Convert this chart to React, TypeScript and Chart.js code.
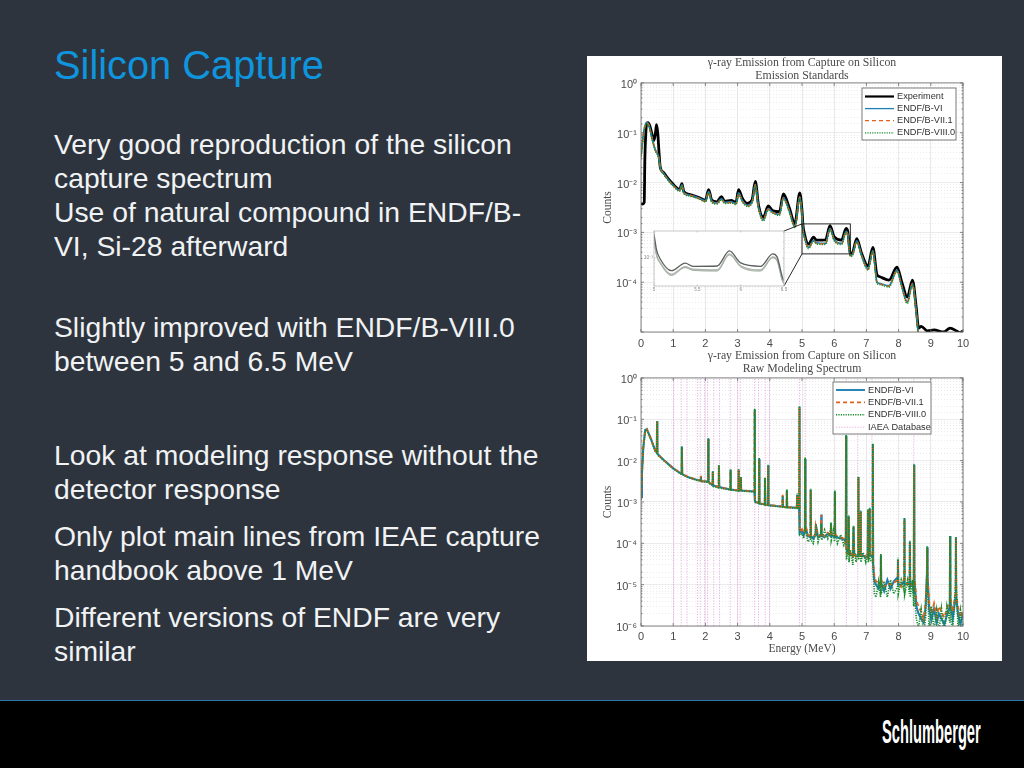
import React, { useEffect, useRef } from "react";
import { Chart, registerables } from "chart.js";

Chart.register(...registerables);

// ---------- slide text ----------
const slideTitle = "Silicon Capture";
const bodyLines: [string, number][] = [
  ["Very good reproduction of the silicon", 144],
  ["capture spectrum", 178],
  ["Use of natural compound in ENDF/B-", 212],
  ["VI, Si-28 afterward", 246],
  ["Slightly improved with ENDF/B-VIII.0", 327],
  ["between 5 and 6.5 MeV", 361],
  ["Look at modeling response without the", 455],
  ["detector response", 489],
  ["Only plot main lines from IEAE capture", 536],
  ["handbook above 1 MeV", 570],
  ["Different versions of ENDF are very", 617],
  ["similar", 651],
];

// ---------- top chart: detector-broadened spectrum ----------
const expEnergy = [0, .05, .1, .12, .15, .18, .22, .27, .33, .4, .45, .48, .52, .56, .6, .7, .8, 1, 1.2, 1.27, 1.33, 1.5, 1.8, 2, 2.1, 2.2, 2.35, 2.5, 2.6, 2.8, 2.95, 3.03, 3.15, 3.3, 3.45, 3.55, 3.65, 3.8, 3.95, 4.1, 4.3, 4.42, 4.6, 4.78, 4.93, 5, 5.03, 5.07, 5.2, 5.36, 5.45, 5.73, 5.87, 6, 6.23, 6.37, 6.42, 6.5, 6.55, 6.7, 6.85, 7.05, 7.2, 7.33, 7.4, 7.7, 7.95, 8.1, 8.27, 8.43, 8.55, 8.62, 8.7, 8.9, 9.1, 9.4, 9.6, 9.8, 9.9, 10];
const experiment = [3.8e-3, 3.7e-3, 4e-3, .03, .1, .155, .16, .14, .1, .07, .1, .145, .1, .04, .02, .016, .013, .0092, .0073, .0095, .0066, .0058, .005, .0044, .0072, .0044, .0041, .0052, .0042, .0044, .004, .0072, .0048, .0038, .0045, .0105, .0035, .002, .0034, .0027, .0026, .0059, .0032, .0015, .0062, 2.75e-3, 1.4e-3, 9.7e-4, 5.8e-4, 8e-4, 7e-4, 7.1e-4, 1.36e-3, 8.1e-4, 7e-4, 1.2e-3, 1.05e-3, 3.8e-4, 3.7e-4, 7.5e-4, 3.8e-4, 2.1e-4, 5e-4, 1.4e-4, 1.3e-4, 1.1e-4, 2e-4, 1e-4, 5e-5, 1.1e-4, 3e-5, 1.2e-5, 1.3e-5, 1.05e-5, 1.1e-5, 1e-5, 1.2e-5, 1.05e-5, 9.7e-6, 1.05e-5];
const modelEnergy = [0, .05, .1, .18, .25, .35, .45, .5, .56, .6, .7, .8, 1, 1.2, 1.27, 1.33, 1.5, 1.8, 2, 2.1, 2.2, 2.35, 2.5, 2.6, 2.8, 2.95, 3.03, 3.15, 3.3, 3.45, 3.55, 3.65, 3.8, 3.95, 4.1, 4.3, 4.42, 4.6, 4.78, 4.93, 5, 5.03, 5.07, 5.2, 5.36, 5.45, 5.73, 5.87, 6, 6.23, 6.37, 6.42, 6.5, 6.55, 6.7, 6.85, 7.05, 7.2, 7.33, 7.4, 7.7, 7.95, 8.1, 8.27, 8.43, 8.55, 8.62, 8.7];
const broadVI = [.035, .07, .12, .16, .14, .075, .045, .04, .03, .02, .0155, .0125, .0088, .007, .009, .0063, .0056, .0049, .0043, .0066, .0042, .0039, .0047, .004, .0041, .0038, .0062, .0043, .0035, .0041, .0092, .0032, .0018, .003, .0025, .0023, .005, .0028, .0013, .0052, 2.3e-3, 1.15e-3, 8.4e-4, 5e-4, 6.9e-4, 6.2e-4, 6e-4, 1.2e-3, 7.2e-4, 6e-4, 1.05e-3, 9.2e-4, 3.5e-4, 3.5e-4, 6.8e-4, 3.5e-4, 1.85e-4, 4.3e-4, 1e-4, 9.5e-5, 8.5e-5, 1.75e-4, 8.3e-5, 4e-5, 9.5e-5, 2.5e-5, 8e-6, 3e-6];
const broadVII = [.033, .068, .118, .158, .138, .074, .044, .039, .03, .02, .0152, .0123, .0087, .0069, .0088, .0062, .0056, .0048, .0042, .0064, .0042, .0038, .0046, .0039, .004, .0037, .006, .0042, .0034, .004, .009, .0031, .0018, .0029, .0025, .0023, .0049, .0027, .0013, .0051, 2.2e-3, 1.12e-3, 8.2e-4, 4.9e-4, 6.7e-4, 6e-4, 5.9e-4, 1.17e-3, 7e-4, 5.9e-4, 1.03e-3, 9e-4, 3.4e-4, 3.4e-4, 6.6e-4, 3.4e-4, 1.8e-4, 4.2e-4, 9.8e-5, 9.3e-5, 8.3e-5, 1.7e-4, 8.1e-5, 3.9e-5, 9.3e-5, 2.4e-5, 8e-6, 3e-6];
const broadVIII = [.03, .062, .11, .15, .13, .07, .042, .037, .028, .019, .0148, .012, .0085, .0067, .0086, .006, .0054, .0047, .0041, .0062, .004, .0037, .0045, .0038, .0039, .0036, .0058, .0041, .0033, .0039, .0086, .003, .0017, .0028, .0024, .0022, .0047, .0026, .00125, .0049, 2.15e-3, 1.1e-3, 8e-4, 4.7e-4, 6.6e-4, 5.9e-4, 5.7e-4, 1.14e-3, 6.8e-4, 5.7e-4, 1e-3, 8.8e-4, 3.3e-4, 3.3e-4, 6.4e-4, 3.3e-4, 1.75e-4, 4.1e-4, 9.5e-5, 9e-5, 8e-5, 1.65e-4, 7.8e-5, 3.7e-5, 9e-5, 2.3e-5, 7e-6, 3e-6];

// zoom window [xMin, xMax, yMin, yMax] marked on the top chart
const zoomWindow = [5, 6.5, 3.7e-4, 1.48e-3];
const insetTicks = [5, 5.5, 6, 6.5];

// ---------- bottom chart: raw modeling spectrum ----------
const rawEnergy = [
  0, .03, .07, .13, .18, .3, .45, .49, .5, .51, .53, .7, 1,
  1.25, 1.26, 1.27, 1.28, 1.45, 1.7, 1.85, 1.86, 1.87, 2.08, 2.09, 2.1,
  2.22, 2.23, 2.24, 2.41, 2.42, 2.43, 2.77, 2.78, 2.79, 3.02, 3.03, 3.04, 3.09, 3.1, 3.11,
  3.52, 3.53, 3.54, 3.55, 3.66, 3.67, 3.68, 3.84, 3.85, 3.86, 3.94, 3.95, 3.96,
  4.2, 4.39, 4.4, 4.41, 4.52, 4.53, 4.54, 4.84, 4.85, 4.86, 4.91, 4.92, 4.93,
  5, 5.05, 5.09, 5.1, 5.11, 5.18, 5.26, 5.27, 5.28, 5.35, 5.42, 5.43, 5.5, 5.59, 5.6, 5.61, 5.7, 5.8, 5.89, 5.9, 5.91, 5.97, 6.01, 6.02, 6.03, 6.1, 6.2, 6.3,
  6.36, 6.37, 6.38, 6.44, 6.45, 6.46, 6.5, 6.58, 6.6, 6.62, 6.68, 6.74, 6.75, 6.76, 6.81, 6.82, 6.83, 6.9, 6.98, 7.04, 7.05, 7.06, 7.09, 7.1, 7.11, 7.19, 7.2, 7.21, 7.25,
  7.3, 7.38, 7.44, 7.45, 7.46, 7.55, 7.65, 7.75, 7.85, 7.97, 7.98, 7.99, 8.08, 8.17, 8.18, 8.19, 8.28, 8.34, 8.35, 8.36, 8.43, 8.47, 8.48, 8.49, 8.55,
  8.62, 8.7, 8.78, 8.84, 8.88, 8.89, 8.9, 8.95, 9.02, 9.1, 9.18, 9.25, 9.33, 9.42, 9.5, 9.59, 9.6, 9.61, 9.68, 9.77, 9.78, 9.79, 9.85, 9.92, 10,
];
const rawVI = [
  1.3e-3, 5e-3, .02, .055, .058, .035, .017, .016, .09, .015, .014, .0105, .0065,
  .0048, .0048, .022, .0047, .004, .0035, .0033, .0042, .0032, .0031, .034, .003,
  .0026, .0055, .0025, .0023, .0077, .0023, .002, .006, .002, .0019, .006, .0019, .0019, .004, .0019,
  .0018, .17, .0011, .001, .00095, .011, .00092, .00088, .0038, .00086, .00085, .0077, .00084,
  .0008, .00078, .0014, .00077, .00075, .0019, .00075, .00072, .0015, .00072, .00072, .2, .00018,
  2e-4, 1.6e-4, 2e-4, .011, 2.5e-4, 1.5e-4, 1.4e-4, .002, 1.5e-4, 1.3e-4, 1.6e-4, 2.8e-4, 1.4e-4, 1.5e-4, 5e-4, 1.6e-4, 1.4e-4, 1.7e-4, 1.5e-4, 3e-4, 1.6e-4, 1.5e-4, 1.4e-4, .0018, 1.5e-4, 1.4e-4, 1.3e-4, 1.25e-4,
  1.1e-4, .04, 7e-5, 6e-5, 4.5e-4, 6e-5, 5.5e-5, 5e-5, 2.5e-4, 5.5e-5, 5e-5, 5e-5, .004, 6e-5, 5.5e-5, 6e-4, 5.5e-5, 5e-5, 4.5e-5, 5e-5, 6.5e-4, 5e-5, 5e-5, 7e-4, 5.5e-5, 4.5e-5, .025, 3e-5, 1.2e-5,
  1e-5, 8e-6, 1.2e-5, 5e-5, 1.1e-5, 7e-6, 1.3e-5, 8e-6, 1.2e-5, 1.5e-5, 4e-5, 1e-5, 1e-5, 1.2e-5, 4e-4, 1e-5, 1.1e-5, 1e-5, 1.1e-4, 9e-6, 1.1e-5, 6e-6, .008, 1.5e-5, 3e-6,
  2e-6, 1.5e-6, 1.2e-6, 3e-6, 1.8e-5, 8e-5, 1.6e-5, 2.5e-6, 1.4e-6, 2.6e-6, 1.2e-6, 2e-6, 1.5e-6, 1.1e-6, 1.8e-6, 3e-6, 1.5e-4, 4e-6, 1.5e-6, 5e-6, 1.4e-4, 5e-6, 1.8e-6, 1.1e-6, 2e-6,
];
const rawVII = [
  1.2e-3, 5.2e-3, .021, .056, .057, .034, .017, .016, .088, .015, .014, .0104, .0066,
  .0049, .0049, .021, .0047, .0041, .0035, .0033, .0043, .0032, .0031, .033, .003,
  .0026, .0054, .0025, .0023, .0075, .0023, .002, .0058, .002, .0019, .0059, .0019, .0019, .0039, .0019,
  .0018, .165, .0011, .001, .00096, .0105, .00092, .00089, .0037, .00086, .00085, .0075, .00084,
  .00081, .00078, .0015, .00077, .00076, .0018, .00075, .00073, .0014, .00072, .00073, .19, .00019,
  2.2e-4, 1.8e-4, 2.2e-4, .0105, 2.8e-4, 1.6e-4, 1.5e-4, .0019, 1.6e-4, 1.4e-4, 1.7e-4, 2.6e-4, 1.5e-4, 1.6e-4, 4.8e-4, 1.7e-4, 1.5e-4, 1.8e-4, 1.6e-4, 2.8e-4, 1.7e-4, 1.6e-4, 1.5e-4, .0017, 1.6e-4, 1.5e-4, 1.4e-4, 1.3e-4,
  1e-4, .038, 6e-5, 5.5e-5, 4.2e-4, 5.5e-5, 6e-5, 4.5e-5, 2.4e-4, 6e-5, 4.5e-5, 5.5e-5, .0038, 5.5e-5, 6e-5, 5.7e-4, 5e-5, 4.5e-5, 5e-5, 4.5e-5, 6.2e-4, 4.5e-5, 5.5e-5, 6.7e-4, 5e-5, 5e-5, .024, 3.5e-5, 1.5e-5,
  1.2e-5, 1.1e-5, 1e-5, 4.5e-5, 1.3e-5, 9e-6, 1.1e-5, 1e-5, 1.1e-5, 1.3e-5, 3.8e-5, 1.2e-5, 9e-6, 1.4e-5, 3.8e-4, 1.2e-5, 1e-5, 1.2e-5, 1e-4, 1.1e-5, 9e-6, 8e-6, .0075, 2e-5, 4e-6,
  3e-6, 2.2e-6, 1.5e-6, 4e-6, 1.6e-5, 7.5e-5, 1.4e-5, 3.5e-6, 2e-6, 3.5e-6, 1.7e-6, 3e-6, 2.2e-6, 1.6e-6, 2.6e-6, 4e-6, 1.4e-4, 5e-6, 2.2e-6, 6e-6, 1.3e-4, 6e-6, 2.6e-6, 1.6e-6, 2.4e-6,
];
const rawVIII = [
  1.1e-3, 5e-3, .02, .054, .056, .034, .0165, .0155, .09, .0145, .0135, .0102, .0064,
  .0047, .0047, .022, .0046, .004, .0034, .0032, .0041, .0031, .003, .035, .0029,
  .0025, .0056, .0024, .0022, .0078, .0022, .00195, .0061, .00195, .00185, .0062, .00185, .00185, .0041, .00185,
  .00175, .18, .00105, .00098, .00093, .0115, .0009, .00086, .0039, .00085, .00083, .008, .00082,
  .00078, .00076, .0014, .00075, .00073, .002, .00073, .0007, .0016, .0007, .0007, .21, .00016,
  1.7e-4, 1.3e-4, 1.8e-4, .012, 2.2e-4, 1.1e-4, 1.2e-4, .0021, 1.2e-4, 1e-4, 2e-4, 3e-4, 1.1e-4, 1.9e-4, 3e-4, 1.2e-4, 2.1e-4, 1.3e-4, 2.2e-4, 3.2e-4, 1.2e-4, 2e-4, 1.1e-4, .0019, 2e-4, 1e-4, 1.6e-4, 9e-5,
  1.2e-4, .042, 4e-5, 8e-5, 4.7e-4, 3.5e-5, 7e-5, 3e-5, 2.7e-4, 7e-5, 3.5e-5, 6e-5, .0042, 4e-5, 7e-5, 6.2e-4, 3.5e-5, 6e-5, 3.5e-5, 6e-5, 6.8e-4, 3.5e-5, 6e-5, 7.2e-4, 4e-5, 3.5e-5, .026, 2e-5, 6e-6,
  5e-6, 1.2e-5, 5e-6, 5.5e-5, 6e-6, 1.2e-5, 5e-6, 1.3e-5, 6e-6, 9e-6, 4.5e-5, 6e-6, 1.3e-5, 7e-6, 4.2e-4, 6e-6, 1.3e-5, 6e-6, 1.15e-4, 5e-6, 1.3e-5, 3e-6, .0082, 8e-6, 1.5e-6,
  9e-7, 2.5e-6, 6e-7, 1.6e-6, 2.2e-5, 8.5e-5, 9e-6, 8e-7, 3e-6, 8e-7, 2.4e-6, 7e-7, 2.6e-6, 6e-7, 3e-6, 1.2e-6, 1.5e-4, 2e-6, 7e-7, 1.1e-5, 1.4e-4, 1e-5, 8e-7, 2.4e-6, 8e-7,
];
const iaeaLines = [1.01, 1.25, 1.43, 1.75, 1.84, 1.97, 2.07, 2.26, 2.44, 2.77, 3.0, 3.08, 3.53, 3.65, 3.86, 3.99, 4.92, 5.1, 6.38, 6.73, 7.17, 8.47];

const BLUE = "#1f7fb5";
const ORANGE = "#e0611f";
const GREEN = "#17892c";
const AXIS_TEXT = "#4a4a4a";
const SANS = "'Liberation Sans', Arial, sans-serif";
const SERIF = "'Liberation Serif', serif";

const SUPERS: Record<string, string> = { "-": "⁻", "0": "⁰", "1": "¹", "2": "²", "3": "³", "4": "⁴", "5": "⁵", "6": "⁶" };
const isDecade = (v: number) => Math.abs(Math.log10(v) - Math.round(Math.log10(v))) < 1e-6;
const powerLabel = (v: number) => "10" + String(Math.round(Math.log10(v))).split("").map((c) => SUPERS[c]).join("");
const pairs = (xs: number[], ys: number[]) => xs.map((x, i) => ({ x, y: ys[i] }));

const line = (label: string, xs: number[], ys: number[], color: string, width: number, dash: number[], smooth: boolean) => ({
  label,
  data: pairs(xs, ys),
  borderColor: color,
  borderWidth: width,
  borderDash: dash,
  pointRadius: 0,
  fill: false,
  cubicInterpolationMode: smooth ? "monotone" : "default",
  tension: 0,
});

// frame, inward ticks
const framePlugin = {
  id: "frame",
  afterLayout(chart: any) {
    // centre the title block over the plot area
    if (chart.titleBlock) {
      chart.titleBlock.left = chart.chartArea.left;
      chart.titleBlock.right = chart.chartArea.right;
    }
  },
  beforeDatasetsDraw(chart: any) {
    const o = chart.options.plugins.frame;
    if (o.fill) {
      const a = chart.chartArea;
      chart.ctx.save();
      chart.ctx.fillStyle = o.fill;
      chart.ctx.fillRect(a.left, a.top, a.right - a.left, a.bottom - a.top);
      chart.ctx.restore();
    }
  },
  afterDatasetsDraw(chart: any) {
    const o = chart.options.plugins.frame;
    const { ctx, chartArea: a, scales } = chart;
    ctx.save();
    ctx.strokeStyle = o.color;
    ctx.lineWidth = 0.8;
    ctx.strokeRect(a.left, a.top, a.right - a.left, a.bottom - a.top);
    ctx.beginPath();
    for (const t of scales.x.ticks) {
      const px = scales.x.getPixelForValue(t.value);
      ctx.moveTo(px, a.bottom);
      ctx.lineTo(px, a.bottom - o.tick);
      ctx.moveTo(px, a.top);
      ctx.lineTo(px, a.top + o.tick);
    }
    for (const t of scales.y.ticks) {
      const py = scales.y.getPixelForValue(t.value);
      const len = isDecade(t.value) ? o.tick : o.tick / 2;
      ctx.moveTo(a.left, py);
      ctx.lineTo(a.left + len, py);
      ctx.moveTo(a.right, py);
      ctx.lineTo(a.right - len, py);
    }
    ctx.stroke();
    ctx.restore();
  },
};

// legend box drawn inside the plot area, reading labels and styles from the datasets
const boxLegendPlugin = {
  id: "boxLegend",
  afterDraw(chart: any) {
    const o = chart.options.plugins.boxLegend;
    if (!o) return;
    const { ctx, canvas } = chart;
    const r = canvas.getBoundingClientRect();
    const x0 = o.x - r.left;
    const y0 = o.y - r.top;
    ctx.save();
    ctx.fillStyle = "#ffffff";
    ctx.strokeStyle = "#5a5a5a";
    ctx.lineWidth = 0.8;
    ctx.fillRect(x0, y0, o.w, o.h);
    ctx.strokeRect(x0, y0, o.w, o.h);
    ctx.font = `${o.font}px ${SANS}`;
    ctx.textBaseline = "middle";
    chart.data.datasets.forEach((d: any, i: number) => {
      const y = y0 + o.first + i * o.step;
      ctx.strokeStyle = d.borderColor;
      ctx.lineWidth = d.legendWidth ?? d.borderWidth;
      ctx.setLineDash(d.borderDash || []);
      ctx.beginPath();
      ctx.moveTo(x0 + 3, y);
      ctx.lineTo(x0 + 3 + o.line, y);
      ctx.stroke();
      ctx.setLineDash([]);
      ctx.fillStyle = "#303030";
      ctx.fillText(d.label, x0 + o.text, y);
    });
    ctx.restore();
  },
};

// rectangle on the zoomed range and its two connector lines to the inset
const zoomMarkPlugin = {
  id: "zoomMark",
  afterDatasetsDraw(chart: any) {
    const o = chart.options.plugins.zoomMark;
    if (!o) return;
    const { ctx, scales, canvas } = chart;
    const r = canvas.getBoundingClientRect();
    const [xa, xb, ya, yb] = zoomWindow;
    const l = scales.x.getPixelForValue(xa);
    const w = scales.x.getPixelForValue(xb) - l;
    const t = scales.y.getPixelForValue(yb);
    const b = scales.y.getPixelForValue(ya);
    ctx.save();
    ctx.strokeStyle = "#111";
    ctx.lineWidth = 0.9;
    ctx.strokeRect(l, t, w, b - t);
    ctx.beginPath();
    ctx.moveTo(o.right - r.left, o.top - r.top);
    ctx.lineTo(l, t);
    ctx.moveTo(o.right - r.left, o.bottom - r.top);
    ctx.lineTo(l, b);
    ctx.stroke();
    ctx.restore();
  },
};

function axesOptions(p: { yMin: number; hideLabelAt?: number; bottom: number; xTitle?: string; pad: number; title: string[]; titlePad: number; tickPad: number }) {
  return {
    responsive: false,
    animation: false as const,
    devicePixelRatio: 1,
    layout: { padding: { left: 0, right: 39, top: 0, bottom: 0 } },
    scales: {
      x: {
        type: "linear" as const,
        min: 0,
        max: 10,
        afterFit: (s: any) => { s.height = p.bottom; },
        ticks: { stepSize: 1, maxRotation: 0, padding: p.tickPad, color: AXIS_TEXT, font: { family: SANS, size: 11 } },
        grid: { color: "#e2e2e2", lineWidth: 0.8, drawTicks: false },
        border: { display: false },
        title: p.xTitle
          ? { display: true, text: p.xTitle, color: AXIS_TEXT, padding: { top: 0, bottom: 5 }, font: { family: SERIF, size: 11.5 } }
          : { display: false },
      },
      y: {
        type: "logarithmic" as const,
        min: p.yMin,
        max: 1,
        afterFit: (s: any) => { s.width = 54; },
        ticks: {
          autoSkip: false,
          padding: 4,
          labelOffset: 2,
          color: AXIS_TEXT,
          font: { family: SANS, size: 11 },
          callback: (v: number) => (isDecade(v) && v !== p.hideLabelAt ? powerLabel(v) : ""),
        },
        grid: {
          drawTicks: false,
          lineWidth: 0.7,
          color: (c: any) => (isDecade(c.tick.value) ? "#e2e2e2" : "#e4e4e4"),
        },
        border: { display: false, dash: (c: any) => (isDecade(c.tick.value) ? [] : [1, 2]) },
        title: { display: true, text: "Counts", color: AXIS_TEXT, padding: { top: p.pad, bottom: 0 }, font: { family: SERIF, size: 11.5 } },
      },
    },
    plugins: {
      legend: { display: false },
      tooltip: { enabled: false },
      title: {
        display: true,
        text: p.title,
        color: "#4a4a4a",
        padding: { top: 0, bottom: p.titlePad },
        font: { family: SERIF, size: 11.8, weight: "normal" as const, lineHeight: 1.1 },
      },
      frame: { color: "#6a6a6a", tick: 3 },
    },
  };
}

const abs = (left: number, top: number, width: number, height: number): React.CSSProperties => ({
  position: "absolute", left, top, width, height, display: "block",
});

export default function App() {
  const topRef = useRef<HTMLCanvasElement>(null);
  const insetRef = useRef<HTMLCanvasElement>(null);
  const botRef = useRef<HTMLCanvasElement>(null);

  useEffect(() => {
    const topOpts: any = axesOptions({ yMin: 1e-5, hideLabelAt: 1e-5, bottom: 18, pad: 14, title: ["γ-ray Emission from Capture on Silicon", "Emission Standards"], titlePad: 1, tickPad: 5 });
    topOpts.plugins.boxLegend = { x: 862, y: 88, w: 94, h: 52, first: 8.5, step: 12.1, line: 29, text: 35, font: 9.2 };
    topOpts.plugins.zoomMark = { right: 784, top: 231, bottom: 286 };
    const top = new Chart(topRef.current!, {
      type: "line",
      data: {
        datasets: [
          { ...line("Experiment", expEnergy, experiment, "#000000", 2.8, [], true), order: 4, legendWidth: 2.2 },
          { ...line("ENDF/B-VI", modelEnergy, broadVI, BLUE, 1.7, [], true), order: 3, legendWidth: 1.3 },
          { ...line("ENDF/B-VII.1", modelEnergy, broadVII, ORANGE, 1.5, [4, 3], true), order: 2, legendWidth: 1.3 },
          { ...line("ENDF/B-VIII.0", modelEnergy, broadVIII, GREEN, 1.5, [1.2, 1.2], true), order: 1, legendWidth: 1.3 },
        ] as any,
      },
      options: topOpts,
      plugins: [framePlugin, boxLegendPlugin, zoomMarkPlugin],
    });

    const inset = new Chart(insetRef.current!, {
      type: "line",
      data: {
        datasets: [
          { ...line("Experiment", expEnergy, experiment, "#5a5f5c", 1.3, [], true), order: 1 },
          { ...line("ENDF/B-VI", modelEnergy, broadVI, "#a9b4ae", 1.1, [], true), order: 4 },
          { ...line("ENDF/B-VII.1", modelEnergy, broadVII, "#b5b2a8", 1, [], true), order: 3 },
          { ...line("ENDF/B-VIII.0", modelEnergy, broadVIII, "#a3b3a6", 1, [], true), order: 2 },
        ] as any,
      },
      options: {
        responsive: false,
        animation: false,
        devicePixelRatio: 1,
        layout: { padding: { left: 0, right: 6, top: 6, bottom: 0 } },
        scales: {
          x: {
            type: "linear", min: insetTicks[0], max: insetTicks[3],
            afterFit: (s: any) => { s.height = 11; },
            afterBuildTicks: (s: any) => { s.ticks = insetTicks.map((value) => ({ value })); },
            ticks: { maxRotation: 0, padding: 1, color: "#8a8a8a", font: { family: SANS, size: 4.5 }, callback: (v: any) => String(v) },
            grid: { display: false, drawTicks: false },
            border: { display: false },
          },
          y: {
            type: "logarithmic", min: 3.4e-4, max: 3.2e-3,
            afterFit: (s: any) => { s.width = 14; },
            ticks: { autoSkip: false, padding: 1, color: "#8a8a8a", font: { family: SANS, size: 5 }, callback: (v: any) => (isDecade(v) ? powerLabel(v) : "") },
            grid: { display: false, drawTicks: false },
            border: { display: false },
          },
        },
        plugins: { legend: { display: false }, title: { display: false }, tooltip: { enabled: false }, frame: { color: "#b9b9b9", tick: 1.5, fill: "#ffffff" } },
      } as any,
      plugins: [framePlugin],
    });

    const botOpts: any = axesOptions({ yMin: 1e-6, bottom: 35, xTitle: "Energy (MeV)", pad: 14, title: ["γ-ray Emission from Capture on Silicon", "Raw Modeling Spectrum"], titlePad: 3, tickPad: 4 });
    botOpts.plugins.boxLegend = { x: 833, y: 382, w: 98, h: 52, first: 8, step: 12.4, line: 29, text: 35, font: 9.2 };
    const iaeaData: { x: number; y: number }[] = [];
    iaeaLines.forEach((x) => { iaeaData.push({ x, y: 1e-6 }, { x, y: 1 }, { x, y: NaN }); });
    const bot = new Chart(botRef.current!, {
      type: "line",
      data: {
        datasets: [
          { ...line("ENDF/B-VI", rawEnergy, rawVI, BLUE, 2.1, [], false), order: 3, legendWidth: 1.9 },
          { ...line("ENDF/B-VII.1", rawEnergy, rawVII, ORANGE, 1.9, [4, 3], false), order: 2, legendWidth: 1.6 },
          { ...line("ENDF/B-VIII.0", rawEnergy, rawVIII, GREEN, 1.7, [1.2, 1.2], false), order: 1, legendWidth: 1.5 },
          { label: "IAEA Database", data: iaeaData, borderColor: "#e7a6e2", borderWidth: 0.9, borderDash: [1.2, 1.5], pointRadius: 0, spanGaps: false, order: 5 },
        ] as any,
      },
      options: botOpts,
      plugins: [framePlugin, boxLegendPlugin],
    });

    return () => { top.destroy(); inset.destroy(); bot.destroy(); };
  }, []);

  return (
    <div style={{ position: "fixed", left: 0, top: 0, width: 1024, height: 768, overflow: "hidden", background: "#2d343d", fontFamily: SANS }}>
      <div style={{ position: "absolute", left: 54, top: 41, lineHeight: "48px", fontSize: 39.8, color: "#0f94de", whiteSpace: "nowrap" }}>{slideTitle}</div>
      {bodyLines.map(([t, y]) => (
        <div key={t} style={{ position: "absolute", left: 54, top: y - 17, lineHeight: "34px", fontSize: 28.3, color: "#f0f2f4", whiteSpace: "nowrap" }}>{t}</div>
      ))}
      <div style={{ ...abs(587, 56, 415, 605), background: "#ffffff" }} />
      <div style={{ ...abs(0, 0, 1024, 768), filter: "blur(0.55px)" }}>
        <canvas ref={topRef} width={415} height={294} style={abs(587, 56, 415, 294)} />
        <canvas ref={insetRef} width={150} height={72} style={abs(640, 225, 150, 72)} />
        <canvas ref={botRef} width={415} height={312} style={abs(587, 349, 415, 312)} />
      </div>
      <div style={{ ...abs(0, 700, 1024, 68), background: "#000000", borderTop: "1px solid #2a7ab0", boxSizing: "border-box" }} />
      <div style={{ position: "absolute", left: 882, top: 714, lineHeight: "36px", fontSize: 33, fontWeight: 700, color: "#ffffff", fontFamily: "'Liberation Sans Narrow', 'Liberation Sans', sans-serif", transform: "scaleX(0.445)", transformOrigin: "left center", whiteSpace: "nowrap" }}>Schlumberger</div>
    </div>
  );
}
